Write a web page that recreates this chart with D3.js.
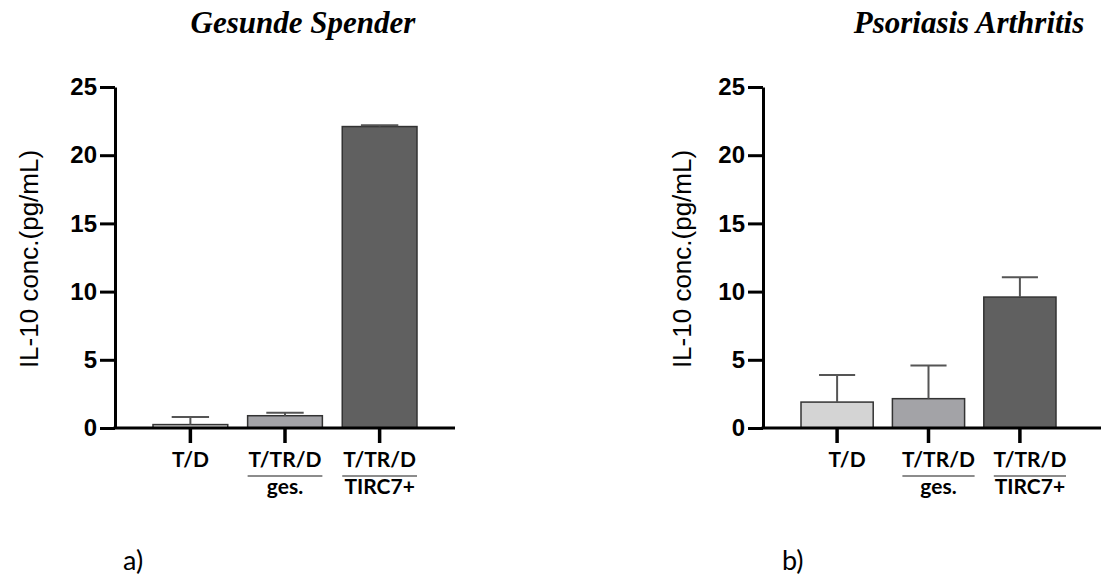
<!DOCTYPE html>
<html>
<head>
<meta charset="utf-8">
<script src="https://cdn.jsdelivr.net/npm/d3@7"></script>
<style>
  body { margin: 0; background: #fff; }
  svg { display: block; }
</style>
</head>
<body>
<svg id="chart" width="1101" height="579"></svg>
<script>
// group labels (upper line / lower line under the rule)
const labelTop = ['T/D', 'T/TR/D', 'T/TR/D'];
const labelBottom = ['', 'ges.', 'TIRC7+'];
const groups = ['td', 'ges', 'tirc'];
const fills = ['#d4d4d4', '#a3a3a7', '#606060'];

// IL-10 values
const healthyMean = [0.25, 0.9, 22.1];
const healthyErr = [0.55, 0.22, 0.1];
const psaMean = [1.9, 2.15, 9.6];
const psaErr = [1.98, 2.44, 1.45];

const yTicks = [0, 5, 10, 15, 20, 25];

const svg = d3.select('#chart');

function drawPanel(opts) {
  const g = svg.append('g');
  const y = d3.scaleLinear().domain([0, 25]).range([428, 87]);
  const x = d3.scaleBand()
    .domain(groups)
    .range(opts.barRange)
    .paddingInner(0.21)
    .paddingOuter(0);

  // bars
  g.selectAll('rect.bar')
    .data(opts.mean)
    .enter()
    .append('rect')
    .attr('class', 'bar')
    .attr('x', (d, i) => x(groups[i]))
    .attr('y', d => y(d))
    .attr('width', x.bandwidth())
    .attr('height', d => y(0) - y(d))
    .attr('fill', (d, i) => fills[i])
    .attr('stroke', '#333')
    .attr('stroke-width', 1.5);

  // error bars (upper only)
  const err = g.selectAll('g.err')
    .data(opts.mean)
    .enter()
    .append('g')
    .attr('class', 'err')
    .attr('stroke', '#555')
    .attr('stroke-width', 2);
  err.append('line')
    .attr('x1', (d, i) => x(groups[i]) + x.bandwidth() / 2)
    .attr('x2', (d, i) => x(groups[i]) + x.bandwidth() / 2)
    .attr('y1', d => y(d))
    .attr('y2', (d, i) => y(d + opts.err[i]));
  err.append('line')
    .attr('x1', (d, i) => x(groups[i]) + x.bandwidth() / 4)
    .attr('x2', (d, i) => x(groups[i]) + x.bandwidth() * 3 / 4)
    .attr('y1', (d, i) => y(d + opts.err[i]))
    .attr('y2', (d, i) => y(d + opts.err[i]));

  // y axis
  const yAxis = g.append('g')
    .attr('transform', `translate(${opts.axisX},0)`)
    .call(d3.axisLeft(y).tickValues(yTicks).tickSize(15).tickSizeOuter(0).tickPadding(3));
  yAxis.select('.domain').attr('stroke', '#000').attr('stroke-width', 3);
  yAxis.selectAll('.tick line').attr('stroke', '#000').attr('stroke-width', 3);
  yAxis.selectAll('.tick text')
    .attr('fill', '#000')
    .style('font-family', '"Liberation Sans", Arial, sans-serif')
    .style('font-weight', 'bold')
    .style('font-size', '24px');

  // x axis
  const xAxis = g.append('g')
    .attr('transform', `translate(0,${y(0)})`);
  xAxis.append('line')
    .attr('x1', opts.axisX - 1.5)
    .attr('x2', opts.axisEnd)
    .attr('stroke', '#000')
    .attr('stroke-width', 3);
  xAxis.selectAll('line.tick')
    .data(groups)
    .enter()
    .append('line')
    .attr('class', 'tick')
    .attr('x1', d => x(d) + x.bandwidth() / 2)
    .attr('x2', d => x(d) + x.bandwidth() / 2)
    .attr('y1', 0)
    .attr('y2', 15)
    .attr('stroke', '#000')
    .attr('stroke-width', 3.5);

  // category labels
  const lab = g.selectAll('g.lab')
    .data(groups)
    .enter()
    .append('g')
    .attr('class', 'lab')
    .attr('transform', d => `translate(${x(d) + x.bandwidth() / 2 + opts.labelDx},0)`)
    .style('font-family', 'Lato, "Open Sans", sans-serif')
    .style('font-weight', 'bold')
    .style('font-size', '21px');
  lab.append('text')
    .attr('text-anchor', 'middle')
    .attr('y', 467)
    .text((d, i) => labelTop[i]);
  lab.filter((d, i) => labelBottom[i] !== '')
    .append('line')
    .attr('x1', -x.bandwidth() / 2)
    .attr('x2', x.bandwidth() / 2)
    .attr('y1', 476)
    .attr('y2', 476)
    .attr('stroke', '#666')
    .attr('stroke-width', 1.5);
  lab.append('text')
    .attr('text-anchor', 'middle')
    .attr('y', 494)
    .text((d, i) => labelBottom[i]);

  // y axis title
  g.append('text')
    .attr('transform', `translate(${opts.titleX},259) rotate(-90)`)
    .attr('text-anchor', 'middle')
    .style('font-family', '"Liberation Sans", Arial, sans-serif')
    .style('font-size', '26px')
    .text('IL-10 conc.(pg/mL)');

  // panel title
  g.append('text')
    .attr('x', opts.headX)
    .attr('y', 33)
    .attr('text-anchor', 'middle')
    .style('font-family', '"Liberation Serif", "Times New Roman", serif')
    .style('font-weight', 'bold')
    .style('font-style', 'italic')
    .style('font-size', '31px')
    .text(opts.head);

  // panel letter
  g.append('text')
    .attr('x', opts.letterX)
    .attr('y', 570)
    .style('font-family', 'Lato, "Open Sans", sans-serif')
    .style('font-size', '27px')
    .text(opts.letter);
}

drawPanel({
  mean: healthyMean, err: healthyErr,
  barRange: [153, 417], axisX: 115, axisEnd: 455,
  labelDx: 0, titleX: 38, headX: 303, head: 'Gesunde Spender',
  letterX: 123, letter: 'a)'
});

drawPanel({
  mean: psaMean, err: psaErr,
  barRange: [801, 1056], axisX: 763, axisEnd: 1103,
  labelDx: 10, titleX: 691, headX: 969, head: 'Psoriasis Arthritis',
  letterX: 782, letter: 'b)'
});
</script>
</body>
</html>
